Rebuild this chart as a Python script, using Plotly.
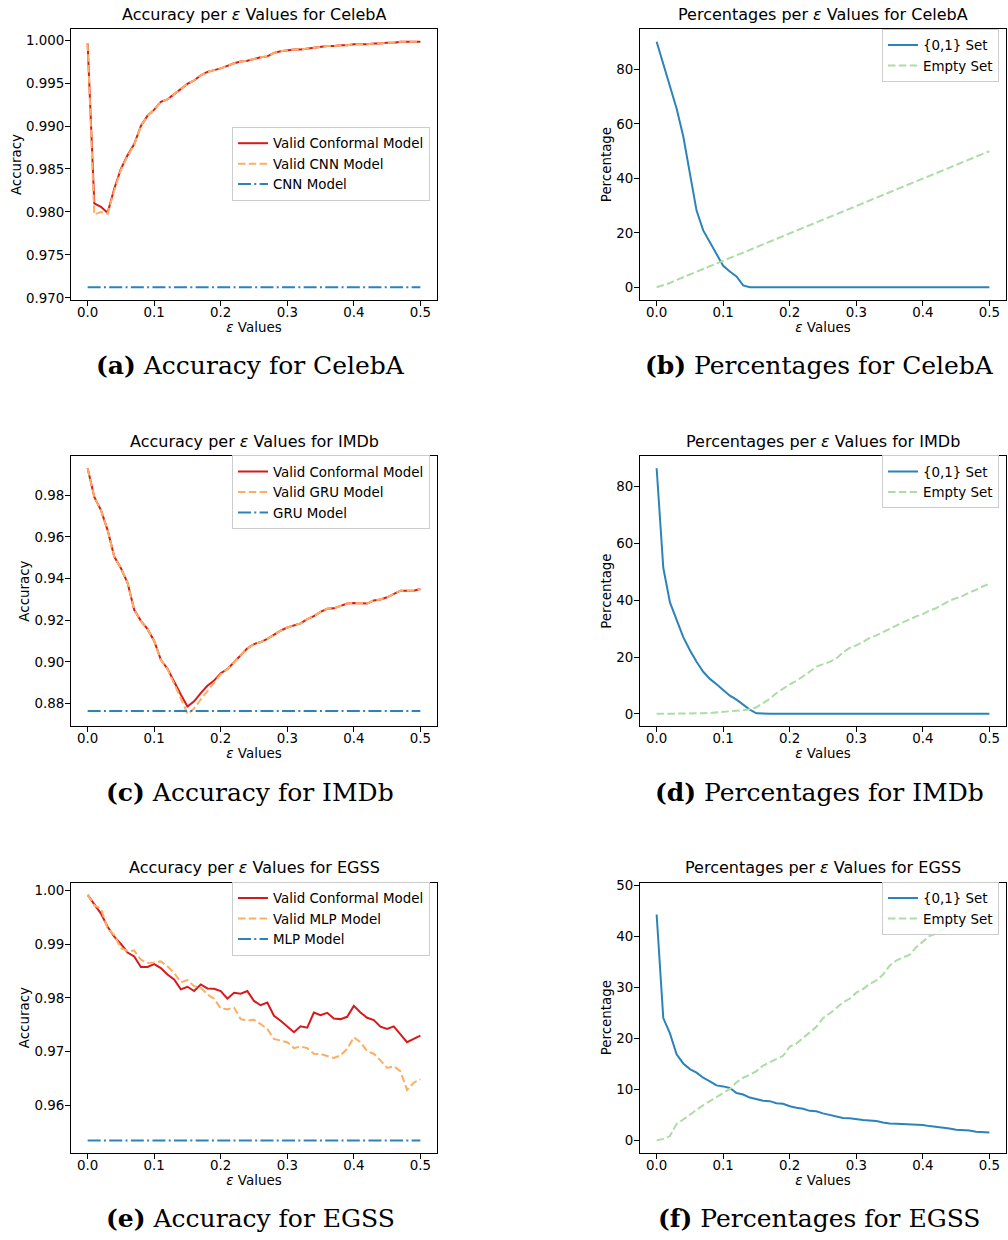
import plotly.graph_objects as go

# ---------------- data ----------------
eps = [0.00, 0.01, 0.02, 0.03, 0.04, 0.05, 0.06, 0.07, 0.08, 0.09,
       0.10, 0.11, 0.12, 0.13, 0.14, 0.15, 0.16, 0.17, 0.18, 0.19,
       0.20, 0.21, 0.22, 0.23, 0.24, 0.25, 0.26, 0.27, 0.28, 0.29,
       0.30, 0.31, 0.32, 0.33, 0.34, 0.35, 0.36, 0.37, 0.38, 0.39,
       0.40, 0.41, 0.42, 0.43, 0.44, 0.45, 0.46, 0.47, 0.48, 0.49, 0.50]
x_ticks = [0.0, 0.1, 0.2, 0.3, 0.4, 0.5]
x_ticklabels = ["0.0", "0.1", "0.2", "0.3", "0.4", "0.5"]

# CelebA accuracy
celeba_conformal = [0.9996, 0.9810, 0.9806, 0.9799, 0.9827, 0.9850, 0.9866, 0.9879, 0.9900, 0.9912,
                    0.9919, 0.9928, 0.9931, 0.9937, 0.9943, 0.9949, 0.9953, 0.9959, 0.9963, 0.9965,
                    0.9967, 0.9970, 0.9973, 0.9975, 0.9976, 0.9978, 0.9980, 0.9981, 0.9985, 0.9987,
                    0.9988, 0.9989, 0.9989, 0.9990, 0.9991, 0.9992, 0.9993, 0.9993, 0.9994, 0.9994,
                    0.9995, 0.9995, 0.9995, 0.9996, 0.9996, 0.9997, 0.9997, 0.9998, 0.9998, 0.9998, 0.9998]
celeba_valid_cnn = [0.9996, 0.9797, 0.9800, 0.9798, 0.9825, 0.9849, 0.9865, 0.9878, 0.9900, 0.9912,
                    0.9919, 0.9928, 0.9931, 0.9937, 0.9943, 0.9949, 0.9953, 0.9959, 0.9963, 0.9965,
                    0.9967, 0.9970, 0.9973, 0.9975, 0.9976, 0.9978, 0.9980, 0.9981, 0.9985, 0.9987,
                    0.9988, 0.9989, 0.9989, 0.9990, 0.9991, 0.9992, 0.9993, 0.9993, 0.9994, 0.9994,
                    0.9995, 0.9995, 0.9995, 0.9996, 0.9996, 0.9997, 0.9997, 0.9998, 0.9998, 0.9998, 0.9998]
celeba_cnn_base = 0.97123

# CelebA percentages
celeba_set01 = [90.2, 82.0, 74.2, 65.7, 55.5, 42.0, 28.2, 20.9, 16.7, 12.5,
                7.9, 5.8, 4.0, 0.7, 0.0, 0.0, 0.0, 0.0, 0.0, 0.0,
                0.0, 0.0, 0.0, 0.0, 0.0, 0.0, 0.0, 0.0, 0.0, 0.0,
                0.0, 0.0, 0.0, 0.0, 0.0, 0.0, 0.0, 0.0, 0.0, 0.0,
                0.0, 0.0, 0.0, 0.0, 0.0, 0.0, 0.0, 0.0, 0.0, 0.0, 0.0]
celeba_empty = [0.0, 0.7, 1.6, 2.7, 3.7, 4.7, 5.8, 6.8, 7.9, 8.9,
                9.9, 10.9, 11.9, 12.9, 13.9, 14.9, 15.9, 16.9, 17.9, 18.9,
                19.9, 20.9, 21.9, 22.9, 23.9, 24.9, 25.9, 26.9, 27.9, 28.9,
                29.9, 30.9, 31.9, 32.9, 33.9, 34.9, 35.9, 36.9, 37.9, 38.9,
                39.9, 40.9, 41.9, 42.9, 43.9, 44.9, 45.9, 46.9, 47.9, 48.9, 50.0]

# IMDb accuracy
imdb_conformal = [0.9930, 0.9792, 0.9729, 0.9633, 0.9506, 0.9450, 0.9380, 0.9250, 0.9197, 0.9157,
                  0.9100, 0.9010, 0.8967, 0.8903, 0.8843, 0.8785, 0.8810, 0.8850, 0.8885, 0.8910,
                  0.8945, 0.8965, 0.9000, 0.9035, 0.9065, 0.9085, 0.9095, 0.9110, 0.9130, 0.9150,
                  0.9165, 0.9175, 0.9185, 0.9205, 0.9220, 0.9240, 0.9255, 0.9257, 0.9270, 0.9280,
                  0.9283, 0.9283, 0.9280, 0.9295, 0.9300, 0.9310, 0.9325, 0.9342, 0.9342, 0.9342, 0.9350]
imdb_valid_gru = [0.9930, 0.9792, 0.9729, 0.9633, 0.9506, 0.9450, 0.9380, 0.9250, 0.9197, 0.9157,
                  0.9100, 0.9010, 0.8965, 0.8898, 0.8825, 0.8750, 0.8775, 0.8820, 0.8860, 0.8900,
                  0.8940, 0.8965, 0.9000, 0.9035, 0.9065, 0.9085, 0.9095, 0.9110, 0.9130, 0.9150,
                  0.9165, 0.9175, 0.9185, 0.9205, 0.9220, 0.9240, 0.9255, 0.9257, 0.9270, 0.9280,
                  0.9283, 0.9283, 0.9280, 0.9295, 0.9300, 0.9310, 0.9325, 0.9342, 0.9342, 0.9342, 0.9350]
imdb_gru_base = 0.87635

# IMDb percentages
imdb_set01 = [86.4, 51.4, 39.2, 33.4, 27.0, 22.4, 18.3, 14.8, 12.3, 10.4,
              8.5, 6.4, 5.0, 3.2, 1.5, 0.2, 0.0, 0.0, 0.0, 0.0,
              0.0, 0.0, 0.0, 0.0, 0.0, 0.0, 0.0, 0.0, 0.0, 0.0,
              0.0, 0.0, 0.0, 0.0, 0.0, 0.0, 0.0, 0.0, 0.0, 0.0,
              0.0, 0.0, 0.0, 0.0, 0.0, 0.0, 0.0, 0.0, 0.0, 0.0, 0.0]
imdb_empty = [0.0, 0.0, 0.0, 0.0, 0.0, 0.05, 0.1, 0.2, 0.3, 0.45,
              0.7, 0.9, 1.1, 1.3, 1.6, 2.3, 3.8, 5.3, 7.3, 9.0,
              10.4, 11.6, 13.1, 14.8, 16.6, 17.4, 18.3, 19.5, 21.6, 23.2,
              24.1, 25.3, 26.7, 27.6, 28.8, 29.9, 31.1, 32.2, 33.2, 34.3,
              35.1, 36.3, 37.2, 38.4, 39.8, 40.7, 41.5, 42.7, 43.6, 44.8, 45.8]

# EGSS accuracy
egss_conformal = [0.9992, 0.99755, 0.9957, 0.99325, 0.99141, 0.99006, 0.98847, 0.98773, 0.98577, 0.98577,
                  0.98632, 0.98558, 0.98436, 0.98344, 0.9816, 0.98209, 0.98129, 0.98252, 0.98178, 0.98172,
                  0.98129, 0.97988, 0.98098, 0.9808, 0.98129, 0.97945, 0.97865, 0.97914, 0.97669, 0.97577,
                  0.97472, 0.97362, 0.97472, 0.97448, 0.9773, 0.97681, 0.97724, 0.9762, 0.97607, 0.9765,
                  0.97853, 0.9773, 0.97632, 0.97589, 0.97466, 0.97423, 0.97472, 0.97331, 0.97178, 0.97239, 0.97301]
egss_valid_mlp = [0.9992, 0.99724, 0.99663, 0.99294, 0.99172, 0.98926, 0.98877, 0.98883, 0.98712, 0.9865,
                  0.98663, 0.98681, 0.98589, 0.98466, 0.98294, 0.98331, 0.98221, 0.9819, 0.98067, 0.97988,
                  0.97804, 0.97791, 0.97822, 0.97607, 0.97577, 0.97595, 0.97515, 0.97423, 0.97239, 0.97202,
                  0.97178, 0.97067, 0.97098, 0.97067, 0.96963, 0.96957, 0.96914, 0.96883, 0.96933, 0.97055,
                  0.9727, 0.97178, 0.97012, 0.96963, 0.9684, 0.96699, 0.9673, 0.96638, 0.96288, 0.96423, 0.96491]
egss_mlp_base = 0.9535

# EGSS percentages
egss_set01 = [44.35, 24.0, 21.0, 16.9, 15.1, 14.0, 13.3, 12.3, 11.6, 10.8,
              10.6, 10.3, 9.3, 9.0, 8.4, 8.1, 7.8, 7.7, 7.3, 7.2,
              6.7, 6.4, 6.2, 5.8, 5.7, 5.3, 5.0, 4.7, 4.4, 4.35,
              4.1, 4.0, 3.9, 3.8, 3.5, 3.3, 3.25, 3.2, 3.1, 3.05,
              3.0, 2.8, 2.65, 2.6, 2.35, 2.1, 2.0, 1.95, 1.7, 1.6, 1.55]
egss_empty = [0.0, 0.3, 0.85, 3.25, 4.1, 5.1, 6.0, 6.9, 7.7, 8.4,
              9.3, 10.1, 11.4, 12.3, 12.9, 13.6, 14.7, 15.3, 16.0, 16.6,
              18.4, 19.0, 20.1, 21.2, 22.3, 24.0, 24.9, 26.0, 27.1, 27.8,
              29.0, 29.7, 30.7, 31.4, 32.5, 34.3, 35.3, 35.9, 36.4, 37.9,
              39.0, 40.1, 40.6, 41.4, 42.3, 43.2, 44.1, 45.2, 46.3, 47.2, 48.2]

for arr in [celeba_conformal, celeba_valid_cnn, celeba_set01, celeba_empty, imdb_conformal,
            imdb_valid_gru, imdb_set01, imdb_empty, egss_conformal, egss_valid_mlp,
            egss_set01, egss_empty]:
    assert len(arr) == len(eps), len(arr)

# ---------------- style ----------------
W, H = 1008, 1240
RED, ORANGE, BLUE, GREEN = "#d7191c", "#fdae61", "#2b83ba", "#abdda4"
FONT = "DejaVu Sans"
FS = 13.4
DASH = "7.5px,3.3px"
DASHDOT = "13px,3.3px,2px,3.3px"

col_px = [(71, 437), (640, 1006)]
row_px = [(25.7, 298), (455.7, 728), (885.7, 1158)]

panels = [
    dict(row=0, col=0, title="Accuracy per <i>ε</i> Values for CelebA", ytitle="Accuracy",
         series=[("Valid Conformal Model", celeba_conformal, RED, "solid"),
                 ("Valid CNN Model", celeba_valid_cnn, ORANGE, DASH),
                 ("CNN Model", [celeba_cnn_base] * len(eps), BLUE, DASHDOT)],
         tick0=0.97, dtick=0.005, fmt=".3f", legend=(232, 131),
         caption="<b>(a)</b> Accuracy for CelebA"),
    dict(row=0, col=1, title="Percentages per <i>ε</i> Values for CelebA", ytitle="Percentage",
         series=[("{0,1} Set", celeba_set01, BLUE, "solid"),
                 ("Empty Set", celeba_empty, GREEN, DASH)],
         tick0=0, dtick=20, fmt="d", legend=(882, 32),
         caption="<b>(b)</b> Percentages for CelebA"),
    dict(row=1, col=0, title="Accuracy per <i>ε</i> Values for IMDb", ytitle="Accuracy",
         series=[("Valid Conformal Model", imdb_conformal, RED, "solid"),
                 ("Valid GRU Model", imdb_valid_gru, ORANGE, DASH),
                 ("GRU Model", [imdb_gru_base] * len(eps), BLUE, DASHDOT)],
         tick0=0.88, dtick=0.02, fmt=".2f", legend=(232, 462),
         caption="<b>(c)</b> Accuracy for IMDb"),
    dict(row=1, col=1, title="Percentages per <i>ε</i> Values for IMDb", ytitle="Percentage",
         series=[("{0,1} Set", imdb_set01, BLUE, "solid"),
                 ("Empty Set", imdb_empty, GREEN, DASH)],
         tick0=0, dtick=20, fmt="d", legend=(882, 462),
         caption="<b>(d)</b> Percentages for IMDb"),
    dict(row=2, col=0, title="Accuracy per <i>ε</i> Values for EGSS", ytitle="Accuracy",
         series=[("Valid Conformal Model", egss_conformal, RED, "solid"),
                 ("Valid MLP Model", egss_valid_mlp, ORANGE, DASH),
                 ("MLP Model", [egss_mlp_base] * len(eps), BLUE, DASHDOT)],
         tick0=0.96, dtick=0.01, fmt=".2f", legend=(232, 892),
         caption="<b>(e)</b> Accuracy for EGSS"),
    dict(row=2, col=1, title="Percentages per <i>ε</i> Values for EGSS", ytitle="Percentage",
         series=[("{0,1} Set", egss_set01, BLUE, "solid"),
                 ("Empty Set", egss_empty, GREEN, DASH)],
         tick0=0, dtick=10, fmt="d", legend=(882, 892),
         caption="<b>(f)</b> Percentages for EGSS"),
]

fig = go.Figure()
annotations = []
layout = {}

for i, p in enumerate(panels):
    n = i + 1
    sfx = "" if n == 1 else str(n)
    legname = "legend" if n == 1 else f"legend{n}"
    x0, x1 = col_px[p["col"]]
    y0, y1 = row_px[p["row"]]
    ys = []
    for name, vals, color, dash in p["series"]:
        ys.extend(vals)
        fig.add_trace(go.Scatter(
            x=eps, y=vals, name=name, mode="lines",
            line=dict(color=color, width=2, dash=dash),
            xaxis="x" + sfx, yaxis="y" + sfx, legend=legname,
        ))
    lo, hi = min(ys), max(ys)
    pad = 0.05 * (hi - lo)
    common = dict(showline=True, mirror=True, linecolor="black", linewidth=1,
                  ticks="outside", ticklen=5, tickwidth=1, tickcolor="black",
                  showgrid=False, zeroline=False,
                  tickfont=dict(family=FONT, size=FS, color="black"))
    layout["xaxis" + sfx] = dict(
        common, domain=[x0 / W, x1 / W], anchor="y" + sfx,
        range=[-0.025, 0.525], tickvals=x_ticks, ticktext=x_ticklabels,
        ticklabelstandoff=-5,
        title=dict(text="<i>ε</i> Values", font=dict(family=FONT, size=FS, color="black"), standoff=2),
    )
    layout["yaxis" + sfx] = dict(
        common, domain=[1 - y1 / H, 1 - y0 / H], anchor="x" + sfx,
        range=[lo - pad, hi + pad], tick0=p["tick0"], dtick=p["dtick"], tickformat=p["fmt"],
        ticklabelstandoff=-2,
        title=dict(text=p["ytitle"], font=dict(family=FONT, size=FS, color="black"), standoff=1),
    )
    lx, ly = p["legend"]
    layout[legname] = dict(
        x=lx / W, y=1 - (ly - 7) / H, xanchor="left", yanchor="top",
        bgcolor="rgba(255,255,255,0.8)", bordercolor="#cccccc", borderwidth=1,
        font=dict(family=FONT, size=FS, color="black"),
    )
    cx = (x0 + x1) / 2 / W
    annotations.append(dict(text=p["title"], x=cx, y=1 - (y0 - 15) / H, xref="paper", yref="paper",
                            xanchor="center", yanchor="middle", showarrow=False,
                            font=dict(family=FONT, size=16, color="black")))
    annotations.append(dict(text=p["caption"], x=cx - 4 / W, y=1 - (y0 + 339) / H, xref="paper", yref="paper",
                            xanchor="center", yanchor="middle", showarrow=False,
                            font=dict(family="DejaVu Serif", size=25, color="black")))

fig.update_layout(
    width=W, height=H, margin=dict(l=0, r=0, t=0, b=0),
    paper_bgcolor="white", plot_bgcolor="white",
    font=dict(family=FONT, size=FS, color="black"),
    annotations=annotations, showlegend=True,
    **layout,
)

fig.write_html("out.html")
